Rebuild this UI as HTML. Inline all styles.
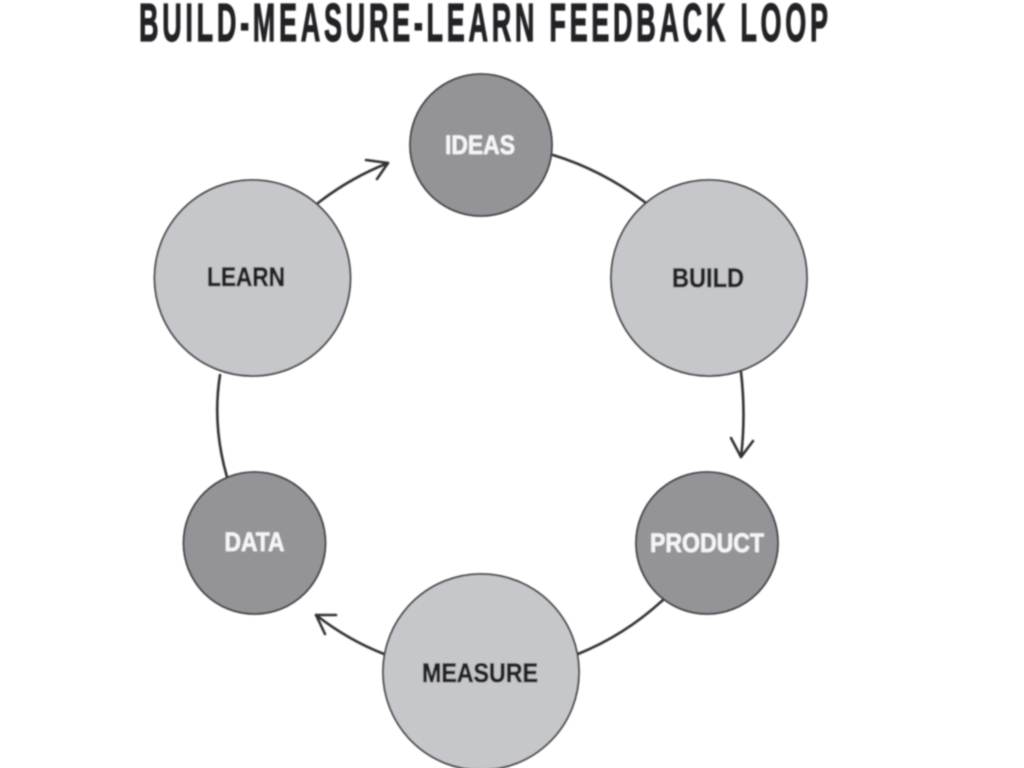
<!DOCTYPE html>
<html>
<head>
<meta charset="utf-8">
<title>Build-Measure-Learn Feedback Loop</title>
<style>
html,body{margin:0;padding:0;background:#fff;width:1024px;height:768px;overflow:hidden}
svg{display:block}
text{font-family:"Liberation Sans",sans-serif;font-weight:700}
</style>
</head>
<body>
<svg width="1024" height="768" viewBox="0 0 1024 768" xmlns="http://www.w3.org/2000/svg">
<defs><filter id="b" x="-5%" y="-5%" width="110%" height="110%"><feGaussianBlur stdDeviation="0.7"/></filter></defs>
<g filter="url(#b)">
<text transform="translate(139,41) scale(0.5,1)" x="0" y="0" font-size="54" fill="#242426" stroke="#242426" stroke-width="1.2" letter-spacing="7.44">BUILD-MEASURE-LEARN FEEDBACK LOOP</text>

<g fill="none" stroke="#333335" stroke-width="2.6" stroke-linecap="round" stroke-linejoin="round">
<path d="M318 203 Q350 178 388 163"/>
<path d="M366 160 L388 163 L377 179"/>
<path d="M553 155 Q602 170 646 203"/>
<path d="M741 372 Q746 415 741 457"/>
<path d="M731 438 L741 457 L753 441"/>
<path d="M663 600 Q625 635 578 654"/>
<path d="M384 654 Q348 640 316 615"/>
<path d="M336 615 L316 615 L325 634"/>
<path d="M227 477 Q212 425 220 375"/>
</g>

<g stroke="#3c3c3f" stroke-width="1.8">
<circle cx="481" cy="145" r="71" fill="#949498"/>
<circle cx="709" cy="278" r="98" fill="#c6c7ca"/>
<circle cx="707" cy="543" r="71" fill="#949498"/>
<circle cx="481" cy="672" r="98" fill="#c6c7ca"/>
<circle cx="254.500" cy="543" r="71" fill="#949498"/>
<circle cx="252.500" cy="278" r="98" fill="#c6c7ca"/>
</g>

<g font-size="27" text-anchor="middle" stroke-width="0.6">
<text x="480" y="154" fill="#f5f5f6" stroke="#f5f5f6" textLength="70" lengthAdjust="spacingAndGlyphs">IDEAS</text>
<text x="708" y="287" fill="#232326" stroke="#232326" textLength="72" lengthAdjust="spacingAndGlyphs">BUILD</text>
<text x="707" y="552" fill="#f5f5f6" stroke="#f5f5f6" textLength="114" lengthAdjust="spacingAndGlyphs">PRODUCT</text>
<text x="480" y="682" fill="#232326" stroke="#232326" textLength="116" lengthAdjust="spacingAndGlyphs">MEASURE</text>
<text x="254.500" y="551" fill="#f5f5f6" stroke="#f5f5f6" textLength="60" lengthAdjust="spacingAndGlyphs">DATA</text>
<text x="246" y="286" fill="#232326" stroke="#232326" textLength="78" lengthAdjust="spacingAndGlyphs">LEARN</text>
</g>
</g>
</svg>
</body>
</html>
